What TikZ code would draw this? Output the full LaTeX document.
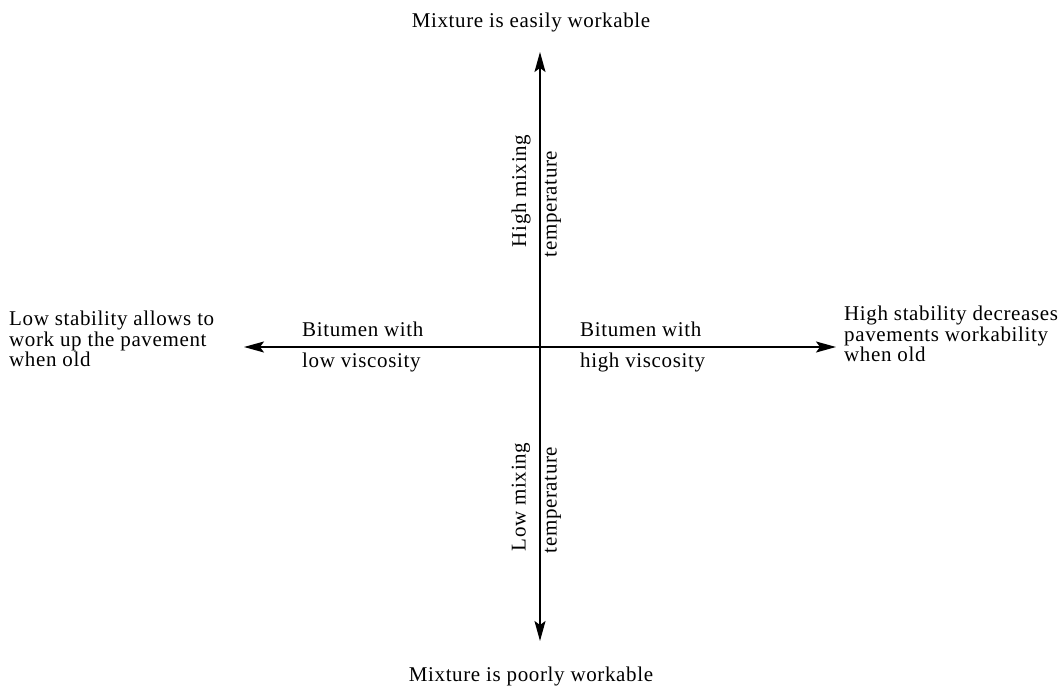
\documentclass[tikz,border=0pt]{standalone}
\usepackage{fontspec}
\setmainfont{Liberation Serif}[LetterSpace=3]
\usetikzlibrary{arrows.meta}
\begin{document}
\begin{tikzpicture}[x=1pt,y=-1pt,
  lbl/.style={inner sep=0pt, font=\fontsize{21}{20.5}\selectfont},
  blk/.style={lbl, align=left, anchor=west},
  axis/.style={line width=1.5pt, {Stealth[length=20pt,width=11pt,inset=4pt]}-{Stealth[length=20pt,width=11pt,inset=4pt]}}]
\useasboundingbox (0,0) rectangle (1058,690);
\coordinate (tipN) at (540,52);
\coordinate (tipS) at (540,641);
\coordinate (tipW) at (244,347);
\coordinate (tipE) at (836,347);
\draw[axis] (tipS) -- (tipN);
\draw[axis] (tipW) -- (tipE);
\node[lbl] (top) at (531,22) {Mixture is easily workable};
\node[lbl] (bot) at (531,676) {Mixture is poorly workable};
\node[blk] (left) at (9,339) {Low stability allows to\\work up the pavement\\when old};
\node[blk] (right) at (844,334) {High stability decreases\\pavements workability\\when old};
\node[blk] (bl1) at (302,329) {Bitumen with};
\node[blk] (bl2) at (302,362) {low viscosity};
\node[blk] (br1) at (580,329) {Bitumen with};
\node[blk] (br2) at (580,362) {high viscosity};
\node[lbl, rotate=90] (hm) at (521,191) {High mixing};
\node[lbl, rotate=90] (ht) at (553,204) {temperature};
\node[lbl, rotate=90] (lm) at (521,497) {Low mixing};
\node[lbl, rotate=90] (lt) at (553,500) {temperature};
\end{tikzpicture}
\end{document}
